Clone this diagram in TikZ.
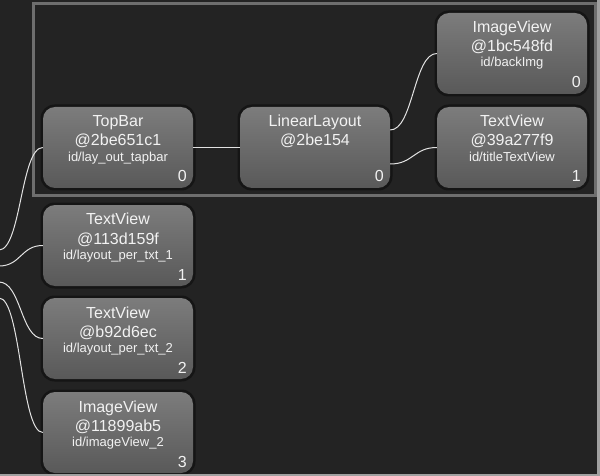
\documentclass[tikz,border=0pt]{standalone}
\usepackage{fontspec}
\setmainfont{Liberation Sans}
\usetikzlibrary{calc}
\definecolor{bg}{HTML}{232323}
\definecolor{frame}{HTML}{A0A0A0}
\definecolor{selbox}{HTML}{6E6E6E}
\definecolor{nodetop}{HTML}{7C7C7C}
\definecolor{nodebot}{HTML}{595959}
\definecolor{txt}{HTML}{F2F2F2}
\definecolor{linkc}{HTML}{E2E2E2}
\tikzset{
  halo/.style={draw=none, fill=black, fill opacity=0.4, rounded corners=14pt,
    minimum width=155pt, minimum height=86pt, inner sep=0pt},
  viewnode/.style={draw=none, rounded corners=12pt, minimum width=150pt,
    minimum height=81pt, inner sep=0pt, top color=nodetop, bottom color=nodebot},
  tbig/.style={text=txt, anchor=base, inner sep=0pt, font=\fontsize{16}{16}\selectfont},
  tsmall/.style={text=txt, anchor=base, inner sep=0pt, font=\fontsize{13}{13}\selectfont},
  tidx/.style={text=txt, anchor=base east, inner sep=0pt, font=\fontsize{16}{16}\selectfont},
  link/.style={draw=linkc, line width=1pt}
}
% name, left, top, line1, line2, line3, index
\newcommand\viewbox[7]{%
  \node[halo] (#1h) at (#2+75,#3+40.5) {};
  \node[viewnode] (#1) at (#2+75,#3+40.5) {};
  \node[tbig] (#1a) at (#2+75,#3+20) {#4};
  \node[tbig] (#1b) at (#2+75,#3+39) {#5};
  \node[tsmall] (#1c) at (#2+75,#3+54) {#6};
  \node[tidx] (#1d) at (#2+144,#3+75) {#7};
}
\begin{document}
\begin{tikzpicture}[x=1pt,y=-1pt]
  \useasboundingbox (0,0) rectangle (600,476);
  \fill[frame] (0,0) rectangle (600,476);
  \fill[bg] (0,0) rectangle (597,473.5);
  \begin{scope}
    \clip (0,0) rectangle (597,473.5);
    % selection box
    \draw[selbox, line width=3pt] (33.5,4) rectangle (595.5,195.5);
    % nodes
    \viewbox{tb}{43}{107}{TopBar}{@2be651c1}{id/lay\_out\_tapbar}{0}
    \viewbox{ll}{240}{107}{LinearLayout}{@2be154}{}{0}
    \viewbox{iv}{437}{13}{ImageView}{@1bc548fd}{id/backImg}{0}
    \viewbox{tv}{437}{107}{TextView}{@39a277f9}{id/titleTextView}{1}
    \viewbox{tvA}{43}{205}{TextView}{@113d159f}{id/layout\_per\_txt\_1}{1}
    \viewbox{tvB}{43}{298}{TextView}{@b92d6ec}{id/layout\_per\_txt\_2}{2}
    \viewbox{ivB}{43}{392}{ImageView}{@11899ab5}{id/imageView\_2}{3}
    % root anchor points (root lies just off the left edge)
    \coordinate (r1) at (-1,250);
    \coordinate (r2) at (-1,266);
    \coordinate (r3) at (-1,282);
    \coordinate (r4) at (-1,298);
    \coordinate (l1) at (ll.east |- 0,130);
    \coordinate (l2) at (ll.east |- 0,164);
    % connectors
    \draw[link] (r1) .. controls +(22,0) and +(-22,0) .. (tb.west);
    \draw[link] (r2) .. controls +(22,0) and +(-22,0) .. (tvA.west);
    \draw[link] (r3) .. controls +(22,0) and +(-22,0) .. (tvB.west);
    \draw[link] (r4) .. controls +(22,0) and +(-22,0) .. (ivB.west);
    \draw[link] (tb.east) -- (ll.west);
    \draw[link] (l1) .. controls +(23,0) and +(-23,0) .. (iv.west);
    \draw[link] (l2) .. controls +(23,0) and +(-23,0) .. (tv.west);
  \end{scope}
\end{tikzpicture}
\end{document}
